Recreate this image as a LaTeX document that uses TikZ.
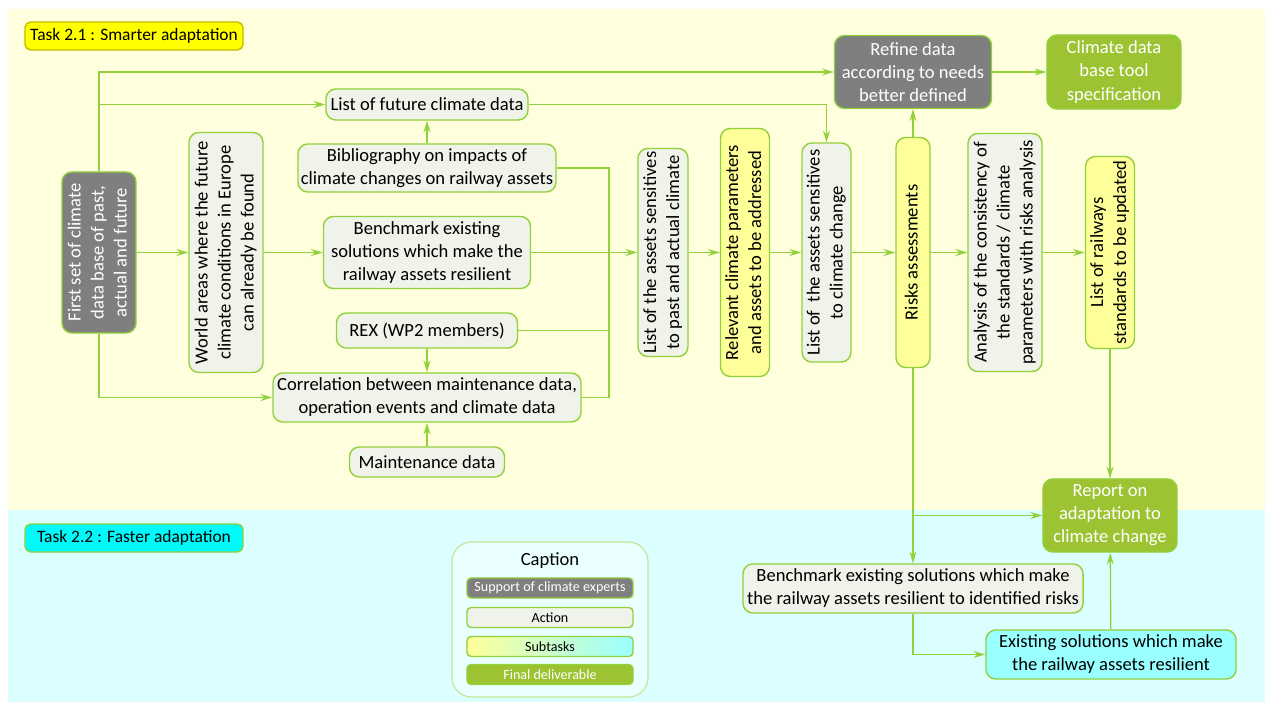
\documentclass[tikz,border=0pt]{standalone}
\usepackage{fontspec}
\setmainfont{Carlito}
\usepackage{graphicx}
\usetikzlibrary{arrows.meta, positioning}

\definecolor{bgyellow}{RGB}{255,255,221}
\definecolor{bgcyan}{RGB}{219,255,255}
\definecolor{linegreen}{RGB}{146,208,60}
\definecolor{expertgray}{RGB}{127,127,127}
\definecolor{actionfill}{RGB}{239,243,233}
\definecolor{subyellow}{RGB}{255,255,153}
\definecolor{subcyan}{RGB}{153,255,255}
\definecolor{delivgreen}{RGB}{155,195,50}
\definecolor{captionfill}{RGB}{234,255,255}
\definecolor{tagyellow}{RGB}{255,255,0}
\definecolor{tagcyan}{RGB}{0,250,250}

\newcommand{\vtext}[1]{\rotatebox{90}{\begin{tabular}{@{}c@{}}#1\end{tabular}}}

\begin{document}
\begin{tikzpicture}[
        x=0.025cm, y=-0.025cm,
        font=\fontsize{13.2}{16.4}\selectfont,
        base/.style={rectangle, draw=linegreen, line width=1pt, rounded corners=7pt,
                     align=center, inner sep=1pt, text centered},
        expert/.style={base, fill=expertgray, text=white},
        action/.style={base, fill=actionfill},
        subtask/.style={base, fill=subyellow},
        deliv/.style={base, fill=delivgreen, text=white},
        tag/.style={rectangle, rounded corners=4pt, line width=1pt, font=\fontsize{12.4}{15}\selectfont,
                    minimum width=5.45cm, minimum height=0.7cm},
        key/.style={minimum width=4.15cm, minimum height=0.5cm, rounded corners=3pt,
                    font=\fontsize{10}{12}\selectfont},
        link/.style={draw=linegreen, line width=0.9pt},
        arrow/.style={link, -{Stealth[length=8.5pt, width=5pt, inset=3pt]}}
    ]
        % background bands
        \useasboundingbox (0,0) rectangle (1265,702);
        \fill[bgyellow] (8,9) rectangle (1265,510);
        \fill[bgcyan] (8,510) rectangle (1265,702);

        \node[tag, fill=tagyellow, draw=olive!50!yellow] (task21) at (134,36) {Task 2.1 : Smarter adaptation};
        \node[tag, fill=tagcyan, draw=linegreen] (task22) at (134,538) {Task 2.2 : Faster adaptation};

        % main row
        \node[expert, minimum width=1.85cm, minimum height=4.025cm] (first) at (99,252.5)
            {\vtext{First set of climate\\data base of past,\\actual and future}};
        \node[action, minimum width=1.85cm, minimum height=6cm] (world) at (226,252.5)
            {\vtext{World areas where the future\\climate conditions in Europe\\can already be found}};

        \node[action, minimum width=5.05cm, minimum height=0.775cm] (future) at (427,104.5) {List of future climate data};
        \node[action, minimum width=6.45cm, minimum height=1.2cm] (biblio) at (427,168)
            {Bibliography on impacts of\\climate changes on railway assets};
        \node[action, minimum width=5.175cm, minimum height=1.8cm] (bench1) at (427,252.5)
            {Benchmark existing\\solutions which make the\\railway assets resilient};
        \node[action, minimum width=4.525cm, minimum height=0.875cm] (rex) at (427,330.5) {REX (WP2 members)};
        \node[action, minimum width=7.7cm, minimum height=1.225cm] (correl) at (427,397.5)
            {Correlation between maintenance data,\\operation events and climate data};
        \node[action, minimum width=3.875cm, minimum height=0.75cm] (maint) at (427,462) {Maintenance data};

        \node[action, minimum width=1.25cm, minimum height=5.2cm] (list1) at (663,252.5)
            {\vtext{List of the assets sensitives\\to past and actual climate}};
        \node[subtask, minimum width=1.2cm, minimum height=6.2cm] (relevant) at (745,252.5)
            {\vtext{Relevant climate parameters\\and assets to be addressed}};
        \node[action, minimum width=1.225cm, minimum height=5.475cm] (list2) at (826.5,252.5)
            {\vtext{List of\ \ the assets sensitives\\to climate change}};
        \node[subtask, minimum width=0.85cm, minimum height=5.75cm] (risks) at (913,252.5)
            {\vtext{Risks assessments}};
        \node[action, minimum width=1.85cm, minimum height=5.95cm] (analysis) at (1005,252.5)
            {\vtext{Analysis of the consistency of\\the standards / climate\\parameters with risks analysis}};
        \node[subtask, minimum width=1.225cm, minimum height=4.8cm] (stdlist) at (1110,252.5)
            {\vtext{List of railways\\standards to be updated}};

        % top row
        \node[expert, minimum width=3.925cm, minimum height=1.825cm] (refine) at (913,72)
            {Refine data\\according to needs\\better defined};
        \node[deliv, minimum width=3.35cm, minimum height=1.85cm] (climtool) at (1114,72)
            {Climate data\\base tool\\specification};

        % lower part
        \node[deliv, minimum width=3.35cm, minimum height=1.825cm] (report) at (1110,515.5)
            {Report on\\adaptation to\\climate change};
        \node[action, minimum width=8.5cm, minimum height=1.225cm] (bench2) at (913,588.5)
            {Benchmark existing solutions which make\\the railway assets resilient to identified risks};
        \node[base, fill=subcyan, minimum width=6.25cm, minimum height=1.225cm] (existing) at (1111,654.5)
            {Existing solutions which make\\the railway assets resilient};

        % caption
        \node[rectangle, draw=linegreen!55, fill=captionfill, line width=0.8pt, rounded corners=14pt,
              minimum width=4.9cm, minimum height=3.875cm] (caption) at (550,619.5) {};
        \node (captitle) at (550,561) {Caption};
        \node[expert, key] (keyexpert) at (550,588) {Support of climate experts};
        \node[action, key] (keyaction) at (550,617.5) {Action};
        \node[base, key, left color=subyellow, right color=subcyan] (keysub) at (550,646.5) {Subtasks};
        \node[deliv, key] (keydeliv) at (550,674.5) {Final deliverable};

        % connectors
        \coordinate (jn) at (609,252.5);
        \draw[arrow] (first.north) |- (refine.west);
        \draw[arrow] (first.north) |- (future.west);
        \draw[arrow] (first) -- (world);
        \draw[arrow] (first.south) |- (correl.west);
        \draw[arrow] (world) -- (bench1);
        \draw[arrow] (bench1) -- (list1);
        \draw[link] (biblio.east) -| (jn);
        \draw[link] (correl.east) -| (jn);
        \draw[link] (rex.east) -- (rex.east -| jn);
        \draw[arrow] (biblio) -- (future);
        \draw[arrow] (rex) -- (correl);
        \draw[arrow] (maint) -- (correl);
        \draw[arrow] (future.east) -| (list2.north);

        \draw[arrow] (list1) -- (relevant);
        \draw[arrow] (relevant) -- (list2);
        \draw[arrow] (list2) -- (risks);
        \draw[arrow] (risks) -- (analysis);
        \draw[arrow] (analysis) -- (stdlist);

        \draw[arrow] (risks) -- (refine);
        \draw[arrow] (refine) -- (climtool);
        \draw[arrow] (stdlist) -- (report);
        \draw[arrow] (risks) -- (bench2);
        \draw[arrow] (risks.south |- report.west) -- (report.west);
        \draw[arrow] (bench2.south) |- (existing.west);
        \draw[arrow] (existing) -- (report);
    \end{tikzpicture}
\end{document}
